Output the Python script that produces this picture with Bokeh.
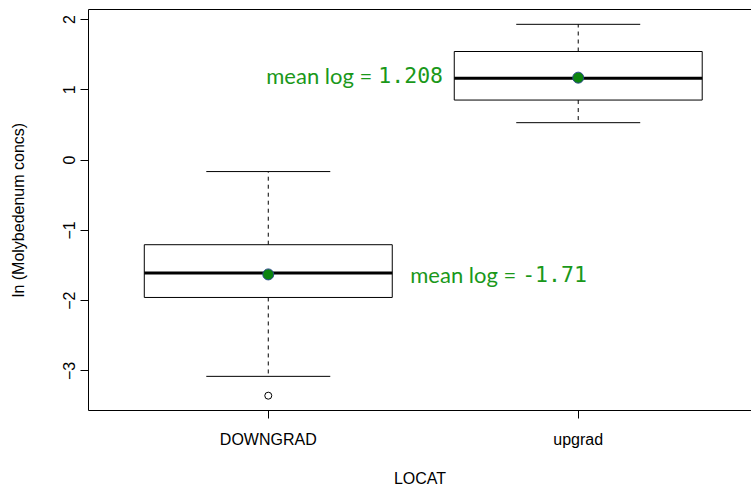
from bokeh.plotting import figure
from bokeh.models import Range1d, FixedTicker, LinearAxis, ColumnDataSource
from bokeh.core.properties import value
from bokeh.embed import file_html
from bokeh.resources import INLINE

# ---- data ----
categories = ["DOWNGRAD", "upgrad"]
xpos = [1, 2]
lower_whisker = [-3.078, 0.533]
q1 = [-1.955, 0.855]
median = [-1.608, 1.167]
q3 = [-1.204, 1.546]
upper_whisker = [-0.163, 1.933]
mean_pt = [-1.627, 1.174]
outlier_x = [1]
outlier_y = [-3.353]
mean_values = ["-1.71", "1.208"]
y_ticks = [-3, -2, -1, 0, 1, 2]

# label placement (annotation layout)
prefix_x = [1.458, 0.9935]
number_x = [1.819, 1.355]
label_y = [-1.625, 1.21]

BOX_W = 0.8
CAP_W = 0.4
GREEN_TXT = "#1a981a"
AXIS_FONT = "Liberation Sans"

p = figure(width=751, height=489, output_backend="svg", toolbar_location=None,
           x_range=Range1d(0.42, 2.559), y_range=Range1d(-3.564, 2.144),
           min_border_left=88, min_border_right=0, min_border_top=9,
           min_border_bottom=78, background_fill_color="white",
           border_fill_color="white")
p.outline_line_color = None
p.xgrid.visible = False
p.ygrid.visible = False

src = ColumnDataSource(dict(
    x=xpos,
    left=[v - BOX_W / 2 for v in xpos],
    right=[v + BOX_W / 2 for v in xpos],
    cl=[v - CAP_W / 2 for v in xpos],
    cr=[v + CAP_W / 2 for v in xpos],
    lw=lower_whisker, q1=q1, med=median, q3=q3, uw=upper_whisker, mean=mean_pt,
))

# whiskers (dashed)
p.segment(x0="x", y0="q3", x1="x", y1="uw", source=src, line_color="black",
          line_width=1, line_dash="4 4")
p.segment(x0="x", y0="q1", x1="x", y1="lw", source=src, line_color="black",
          line_width=1, line_dash="4 4")
# caps
p.segment(x0="cl", y0="uw", x1="cr", y1="uw", source=src, line_color="black", line_width=1)
p.segment(x0="cl", y0="lw", x1="cr", y1="lw", source=src, line_color="black", line_width=1)
# boxes
p.quad(left="left", right="right", bottom="q1", top="q3", source=src,
       fill_color="white", line_color="black", line_width=1)
# medians
p.segment(x0="left", y0="med", x1="right", y1="med", source=src,
          line_color="black", line_width=3)
# mean points
p.scatter(x="x", y="mean", source=src, size=11, fill_color="#0c840f",
          line_color="#2a4a8a", line_width=1)
# outliers
p.scatter(x=outlier_x, y=outlier_y, size=7, fill_color="white",
          line_color="black", line_width=1)

# mean labels
p.text(x=prefix_x, y=label_y, text=["mean log ="] * 2, text_font=value("Lato"),
       text_font_size="22px", text_color=GREEN_TXT, text_align="left",
       text_baseline="middle")
p.text(x=number_x, y=label_y, text=mean_values, text_font=value("DejaVu Sans Mono"),
       text_font_size="21.5px", text_color=GREEN_TXT, text_align="left",
       text_baseline="middle")

# x axis
xa = p.xaxis[0]
xa.ticker = FixedTicker(ticks=xpos)
xa.major_label_overrides = {v: c for v, c in zip(xpos, categories)}
xa.axis_label = "LOCAT"
xa.minor_tick_line_color = None
xa.major_tick_out = 8
xa.major_tick_in = 0
xa.major_label_standoff = 12
xa.axis_label_standoff = 19
xa.major_label_text_font = AXIS_FONT
xa.major_label_text_font_size = "16px"
xa.major_label_text_color = "black"
xa.axis_label_text_font = AXIS_FONT
xa.axis_label_text_font_size = "16px"
xa.axis_label_text_font_style = "normal"
xa.axis_label_text_color = "black"
xa.axis_line_color = "black"
xa.major_tick_line_color = "black"

# y axis
ya = p.yaxis[0]
ya.ticker = FixedTicker(ticks=y_ticks)
ya.major_label_overrides = {t: (str(t).replace("-", "\u2212")) for t in y_ticks}
ya.major_label_orientation = "vertical"
ya.axis_label = "ln (Molybedenum concs)"
ya.minor_tick_line_color = None
ya.major_tick_out = 8
ya.major_tick_in = 0
ya.major_label_standoff = 5
ya.axis_label_standoff = 34
ya.major_label_text_font = AXIS_FONT
ya.major_label_text_font_size = "16px"
ya.major_label_text_color = "black"
ya.axis_label_text_font = AXIS_FONT
ya.axis_label_text_font_size = "16px"
ya.axis_label_text_font_style = "normal"
ya.axis_label_text_color = "black"
ya.axis_line_color = "black"
ya.major_tick_line_color = "black"

# top frame line
top = LinearAxis(ticker=FixedTicker(ticks=[]), major_tick_out=0, major_tick_in=0,
                 minor_tick_out=0, minor_tick_in=0, major_label_standoff=0,
                 major_label_text_font_size="0px", axis_line_color="black")
p.add_layout(top, "above")

open("out.html", "w").write(file_html(p, INLINE))
